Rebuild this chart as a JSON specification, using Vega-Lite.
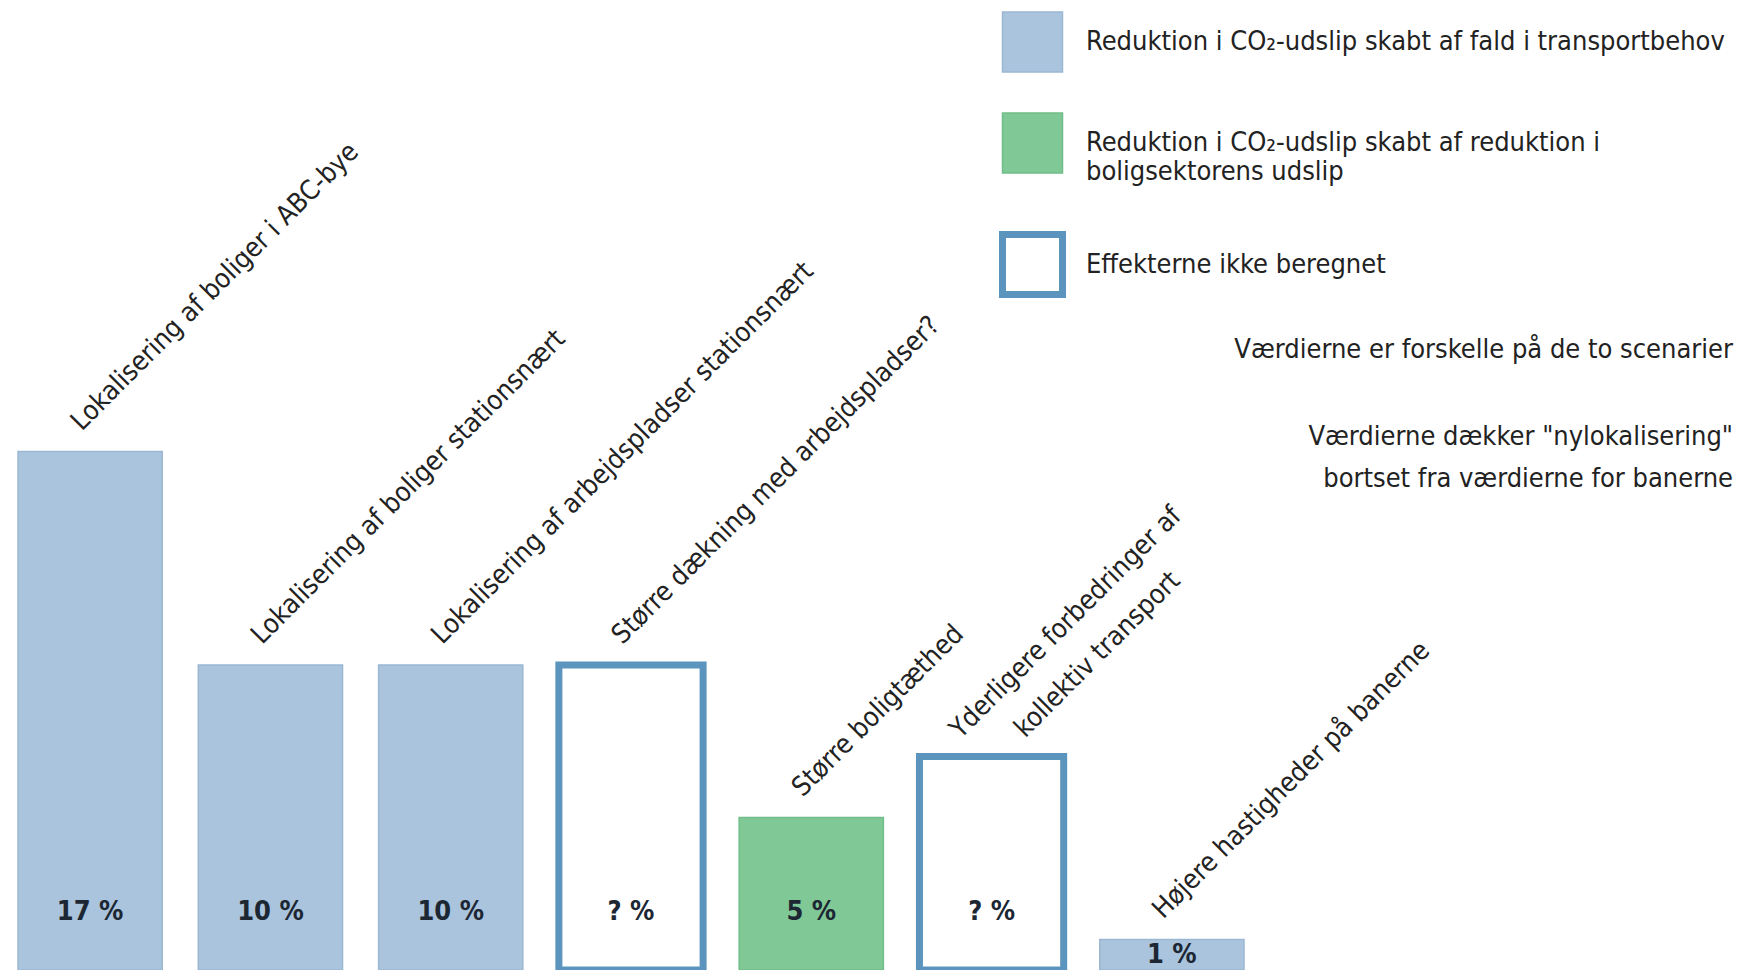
{
  "$schema": "https://vega.github.io/schema/vega-lite/v6.json",
  "width": 1262,
  "height": 970,
  "autosize": {"type": "none"},
  "padding": {"left": 0, "top": 0, "right": 478, "bottom": 0},
  "background": "white",
  "config": {"view": {"stroke": null}, "font": "DejaVu Sans Condensed, sans-serif"},
  "title": {
    "text": "Værdierne er forskelle på de to scenarier",
    "subtitle": ["Værdierne dækker \"nylokalisering\"", "bortset fra værdierne for banerne"],
    "anchor": "end",
    "frame": "group",
    "orient": "top",
    "offset": 0,
    "dx": 471,
    "dy": 493,
    "font": "DejaVu Sans Condensed, sans-serif",
    "subtitleFont": "DejaVu Sans Condensed, sans-serif",
    "fontSize": 27,
    "subtitleFontSize": 27,
    "fontWeight": "normal",
    "color": "#222222",
    "subtitleColor": "#222222",
    "subtitlePadding": 60,
    "subtitleLineHeight": 42,
    "lineHeight": 30
  },
  "data": {
    "values": [
      {"tiltag": "Lokalisering af boliger i ABC-bye", "hoejde": 17, "pct": "17 %", "type": "transport"},
      {"tiltag": "Lokalisering af boliger stationsnært", "hoejde": 10, "pct": "10 %", "type": "transport"},
      {"tiltag": "Lokalisering af arbejdspladser stationsnært", "hoejde": 10, "pct": "10 %", "type": "transport"},
      {"tiltag": "Større dækning med arbejdspladser?", "hoejde": 10, "pct": "? %", "type": "ikke"},
      {"tiltag": "Større boligtæthed", "hoejde": 5, "pct": "5 %", "type": "bolig"},
      {"tiltag": "Yderligere forbedringer af kollektiv transport", "linjer": ["Yderligere forbedringer af", "kollektiv transport"], "hoejde": 7, "pct": "? %", "type": "ikke"},
      {"tiltag": "Højere hastigheder på banerne", "hoejde": 1, "pct": "1 %", "type": "transport"}
    ]
  },
  "encoding": {
    "x": {"field": "tiltag", "type": "nominal", "sort": null, "axis": null, "scale": {"paddingInner": 0.2, "paddingOuter": 0.1}}
  },
  "layer": [
    {
      "mark": {"type": "bar"},
      "encoding": {
        "y": {"field": "hoejde", "type": "quantitative", "axis": null, "scale": {"domain": [0, 31.8], "nice": false}},
        "fill": {
          "field": "type", "type": "nominal",
          "scale": {"domain": ["transport", "bolig", "ikke"], "range": ["#a9c4dc", "#80c996", "#ffffff"]},
          "legend": {"title": null, "orient": "none", "legendX": 999, "legendY": 11, "padding": 0, "symbolType": "square", "symbolSize": 3600, "rowPadding": 35, "labelOffset": 20, "labelFontSize": 27, "labelFont": "DejaVu Sans Condensed, sans-serif", "labelColor": "#222222", "labelLimit": 900,
            "labelExpr": "datum.value == 'transport' ? 'Reduktion i CO₂-udslip skabt af fald i transportbehov' : datum.value == 'bolig' ? ['Reduktion i CO₂-udslip skabt af reduktion i', 'boligsektorens udslip'] : 'Effekterne ikke beregnet'"}
        },
        "stroke": {
          "field": "type", "type": "nominal",
          "scale": {"domain": ["transport", "bolig", "ikke"], "range": ["#9bb7d1", "#6fbd88", "#5b94bd"]},
          "legend": {"title": null, "orient": "none", "legendX": 999, "legendY": 11, "padding": 0, "symbolType": "square", "symbolSize": 3600, "rowPadding": 35, "labelOffset": 20, "labelFontSize": 27, "labelFont": "DejaVu Sans Condensed, sans-serif", "labelColor": "#222222", "labelLimit": 900,
            "labelExpr": "datum.value == 'transport' ? 'Reduktion i CO₂-udslip skabt af fald i transportbehov' : datum.value == 'bolig' ? ['Reduktion i CO₂-udslip skabt af reduktion i', 'boligsektorens udslip'] : 'Effekterne ikke beregnet'"}
        },
        "strokeWidth": {
          "field": "type", "type": "ordinal",
          "scale": {"type": "ordinal", "domain": ["transport", "bolig", "ikke"], "range": [1.5, 1.5, 7]},
          "legend": {"title": null, "orient": "none", "legendX": 999, "legendY": 11, "padding": 0, "symbolType": "square", "symbolSize": 3600, "rowPadding": 35, "labelOffset": 20, "labelFontSize": 27, "labelFont": "DejaVu Sans Condensed, sans-serif", "labelColor": "#222222", "labelLimit": 900,
            "labelExpr": "datum.value == 'transport' ? 'Reduktion i CO₂-udslip skabt af fald i transportbehov' : datum.value == 'bolig' ? ['Reduktion i CO₂-udslip skabt af reduktion i', 'boligsektorens udslip'] : 'Effekterne ikke beregnet'"}
        }
      }
    },
    {
      "transform": [{"filter": "!isArray(datum.linjer)"}],
      "mark": {"type": "text", "angle": 315, "align": "left", "baseline": "middle", "dx": 8, "dy": -28, "fontSize": 27, "font": "DejaVu Sans Condensed, sans-serif", "color": "#222222"},
      "encoding": {
        "y": {"field": "hoejde", "type": "quantitative"},
        "text": {"field": "tiltag", "type": "nominal"}
      }
    },
    {
      "transform": [{"filter": "isArray(datum.linjer)"}],
      "mark": {"type": "text", "angle": 315, "align": "center", "baseline": "middle", "dx": 147, "dy": -42, "lineHeight": 45, "fontSize": 27, "font": "DejaVu Sans Condensed, sans-serif", "color": "#222222"},
      "encoding": {
        "y": {"field": "hoejde", "type": "quantitative"},
        "text": {"field": "linjer", "type": "nominal"}
      }
    },
    {
      "transform": [{"filter": "datum.hoejde >= 3"}],
      "mark": {"type": "text", "baseline": "middle", "fontSize": 27, "fontWeight": "bold", "font": "DejaVu Sans Condensed, sans-serif", "color": "#1c2733"},
      "encoding": {
        "y": {"datum": 1.9, "type": "quantitative"},
        "text": {"field": "pct", "type": "nominal"}
      }
    },
    {
      "transform": [{"filter": "datum.hoejde < 3"}],
      "mark": {"type": "text", "baseline": "top", "dy": 3, "fontSize": 27, "fontWeight": "bold", "font": "DejaVu Sans Condensed, sans-serif", "color": "#1c2733"},
      "encoding": {
        "y": {"field": "hoejde", "type": "quantitative"},
        "text": {"field": "pct", "type": "nominal"}
      }
    }
  ]
}
